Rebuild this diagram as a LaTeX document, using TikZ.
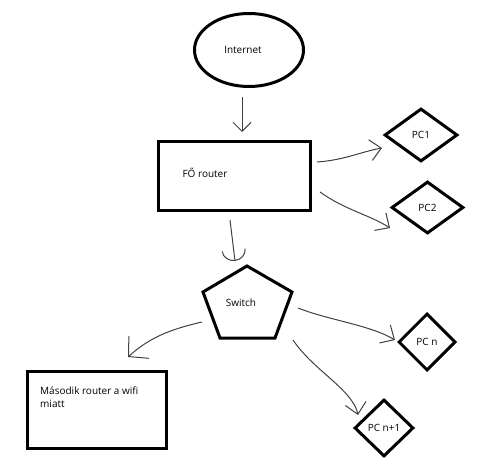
\documentclass[tikz,border=0pt]{standalone}
\usepackage{fontspec}
\setmainfont{Open Sans}
\usetikzlibrary{shapes.geometric,arrows.meta}

\begin{document}
\begin{tikzpicture}[x=1pt, y=-1pt, >={Straight Barb[length=11pt,width=21pt]},
	box/.style={draw, line width=3pt, inner sep=0pt},
	wire/.style={draw=black!75, line width=1pt, ->},
	font=\fontsize{10}{13}\selectfont]
	\useasboundingbox (0,0) rectangle (480,468);

	\path
		(249,50) node[box, ellipse, minimum width=109pt, minimum height=73pt,
			label={[xshift=-6pt]center:Internet}] (net) {}
		(234.5,176) node[box, minimum width=152pt, minimum height=69pt,
			label={[xshift=-29.5pt, yshift=3pt]center:FŐ router}] (main) {}
		(421,135) node[box, diamond, minimum width=73pt, minimum height=53pt] (pc1) {PC1}
		(427.5,207.5) node[box, diamond, minimum width=72pt, minimum height=52pt] (pc2) {PC2}
		(241,303) node (sw) {Switch}
		(97,410) node[box, minimum width=139pt, minimum height=77pt,
			label={[anchor=north west, align=left, inner sep=0pt, xshift=14pt, yshift=-17pt]north west:{Második router a wifi\\miatt}}] (router2) {}
		(427,342) node[box, diamond, minimum width=57pt, minimum height=57pt] (pcn) {PC n}
		(384,428) node[box, diamond, minimum width=59pt, minimum height=57pt] (pcn1) {PC n+1}
	;

	% switch pentagon
	\draw[line width=3pt]
		([shift={(6,-37)}]sw.center) -- ([shift={(51,-11)}]sw.center)
		-- ([shift={(34,35)}]sw.center) -- ([shift={(-21,35)}]sw.center)
		-- ([shift={(-38,-11)}]sw.center) -- cycle;

	\draw[wire, >={Straight Barb[length=9pt,width=18pt]}]
		([shift={(-7,47)}]net.center) -- ([shift={(7.5,-44)}]main.center);
	\draw[wire]
		([shift={(82.5,-14)}]main.center) .. controls +(28,-2) and +(-22,4) .. ([shift={(-39,13)}]pc1.center);
	\draw[wire]
		([shift={(85.5,16)}]main.center) .. controls +(25,18) and +(-20,-13) .. ([shift={(-37.5,20.5)}]pc2.center);
	\draw[wire, -{Arc Barb[length=11pt,width=24pt]}]
		([shift={(-4.5,44)}]main.center) -- ([shift={(-6,-42)}]sw.center);
	\draw[wire, -{Straight Barb[length=14pt,width=30pt]}]
		([shift={(-39,19)}]sw.center) .. controls +(-35,8) and +(20,-18) .. ([shift={(31,-53)}]router2.center);
	\draw[wire]
		([shift={(57,5)}]sw.center) .. controls +(30,12) and +(-25,-15) .. ([shift={(-32,-2)}]pcn.center);
	\draw[wire]
		([shift={(52,37)}]sw.center) .. controls +(20,30) and +(-5,-25) .. ([shift={(-26,-13)}]pcn1.center);
\end{tikzpicture}
\end{document}
